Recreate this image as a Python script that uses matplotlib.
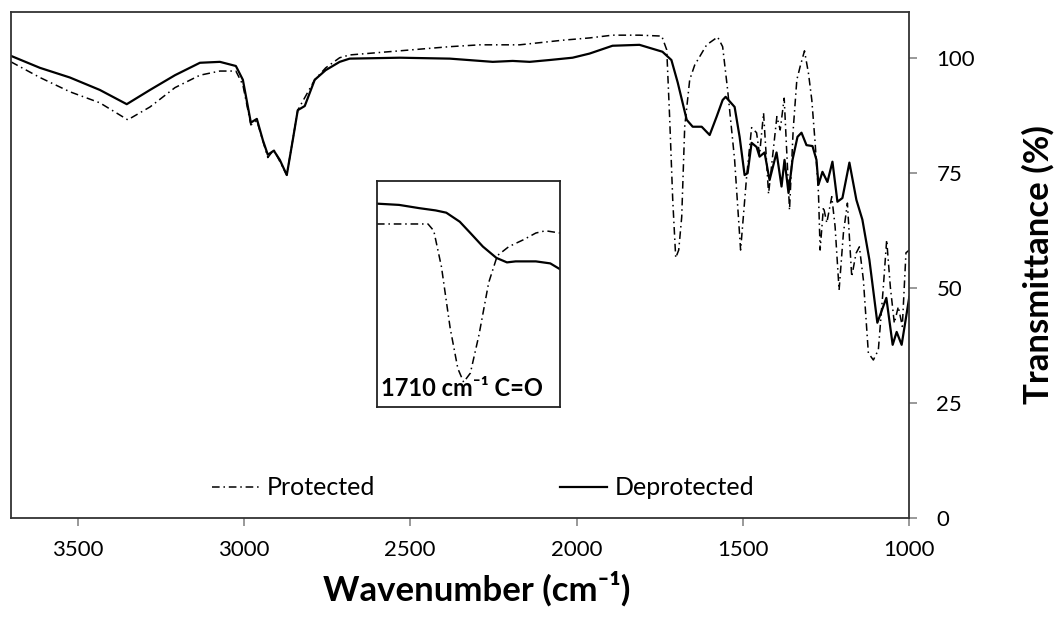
import matplotlib
matplotlib.use("Agg")
import matplotlib.pyplot as plt

plt.rcParams['font.family'] = ['Lato', 'DejaVu Sans']

# Deprotected (solid) spectrum
wn_dep = [3700, 3613, 3523, 3433, 3352, 3282, 3207, 3132, 3072, 3024, 3003, 2979,
          2961, 2943, 2928, 2910, 2892, 2871, 2853, 2838, 2817, 2787, 2754, 2712,
          2682, 2531, 2381, 2252, 2192, 2141, 2081, 2012, 1961, 1892, 1811, 1742,
          1715, 1696, 1669, 1651, 1624, 1600, 1579, 1561, 1552, 1525, 1510, 1495,
          1486, 1474, 1459, 1450, 1435, 1420, 1399, 1384, 1375, 1363, 1351, 1336,
          1324, 1309, 1291, 1279, 1273, 1261, 1246, 1231, 1216, 1201, 1180, 1159,
          1141, 1120, 1096, 1069, 1050, 1038, 1023, 1000]
t_dep = [100.5, 97.9, 95.8, 93.1, 90.0, 93.1, 96.3, 99.0, 99.2, 98.3, 95.3, 86.0,
         86.8, 82.2, 79.0, 79.9, 77.9, 74.6, 82.2, 88.7, 89.6, 95.3, 97.4, 99.2,
         99.9, 100.1, 99.9, 99.2, 99.4, 99.2, 99.6, 100.1, 101.0, 102.7, 102.9, 101.4,
         99.6, 94.7, 86.6, 85.1, 85.1, 83.3, 87.3, 90.9, 91.6, 89.4, 82.9, 74.6,
         75.0, 81.6, 80.7, 78.6, 79.5, 73.5, 79.5, 72.1, 77.9, 70.7, 77.9, 82.9,
         83.8, 81.1, 80.9, 77.9, 72.5, 75.3, 73.1, 77.5, 68.8, 69.6, 77.3, 69.2,
         64.9, 56.2, 42.5, 47.9, 37.7, 40.5, 37.7, 48.1]

# Protected (dash-dot) spectrum
wn_pro = [3700, 3613, 3523, 3433, 3349, 3282, 3207, 3132, 3072, 3024, 3003, 2979,
          2961, 2928, 2910, 2871, 2838, 2787, 2754, 2712, 2682, 2531, 2381, 2291,
          2171, 2042, 1961, 1892, 1811, 1744, 1729, 1720, 1711, 1702, 1693, 1684,
          1675, 1660, 1645, 1609, 1576, 1561, 1546, 1525, 1507, 1489, 1474, 1459,
          1450, 1438, 1423, 1398, 1388, 1376, 1360, 1349, 1338, 1328, 1315, 1303,
          1293, 1283, 1273, 1268, 1258, 1248, 1233, 1223, 1211, 1198, 1186, 1173,
          1160, 1150, 1138, 1123, 1108, 1093, 1078, 1068, 1057, 1045, 1033, 1021,
          1010, 1000]
t_pro = [99.2, 95.8, 92.7, 90.3, 86.6, 89.4, 93.6, 96.3, 97.2, 97.2, 94.2, 85.5,
         86.4, 78.4, 80.1, 74.6, 88.7, 95.3, 97.9, 100.1, 100.7, 101.6, 102.5, 102.9,
         102.9, 103.9, 104.4, 105.0, 105.0, 104.8, 101.8, 86.6, 69.2, 56.6, 58.3, 65.5,
         85.1, 95.3, 98.5, 102.9, 104.6, 102.5, 93.1, 77.9, 58.3, 74.2, 84.9, 83.8,
         79.0, 88.1, 70.5, 87.3, 84.4, 91.3, 67.0, 84.4, 95.3, 98.2, 101.6, 96.7,
         90.9, 81.6, 70.7, 58.3, 67.7, 64.2, 69.9, 63.4, 49.6, 62.0, 68.5, 52.5,
         57.6, 59.0, 51.8, 35.9, 34.4, 36.6, 50.3, 60.5, 50.3, 42.4, 46.0, 41.7,
         57.7, 58.3]

# Inset: zoom on the carbonyl band
wn_ins_pro = [1800, 1771, 1747, 1741, 1733, 1724, 1716, 1710, 1703, 1694, 1684,
              1675, 1663, 1648, 1635, 1625, 1610]
t_ins_pro = [92.9, 92.9, 92.9, 90.2, 75.8, 51.5, 35.3, 29.9, 33.5, 48.8, 69.5,
             80.3, 83.9, 86.6, 89.3, 90.2, 89.3]
wn_ins_dep = [1800, 1777, 1756, 1739, 1728, 1714, 1703, 1690, 1676, 1665, 1656,
              1635, 1620, 1610]
t_ins_dep = [101.0, 100.5, 99.2, 98.3, 97.4, 93.8, 89.3, 83.9, 79.4, 77.6, 78.0,
             78.0, 77.2, 74.9]

x_ticks = [3500, 3000, 2500, 2000, 1500, 1000]
y_ticks = [0, 25, 50, 75, 100]

dashdot = (0, (5, 2.5, 1, 2.5))

fig = plt.figure(figsize=(10.64, 6.19), dpi=100)
ax = fig.add_axes([0.0103, 0.1627, 0.8443, 0.8184])

ax.plot(wn_pro, t_pro, color='black', lw=1.1, linestyle=dashdot, label='Protected')
ax.plot(wn_dep, t_dep, color='black', lw=1.6, label='Deprotected')

ax.set_xlim(3700, 1000)
ax.set_ylim(0, 110.1)
ax.set_xticks(x_ticks)
ax.set_yticks(y_ticks)
ax.yaxis.tick_right()
ax.yaxis.set_label_position('right')
ax.tick_params(axis='both', direction='out', length=5.5, width=1.2, color='#888888',
               labelsize=16)
ax.tick_params(axis='x', pad=10)
ax.tick_params(axis='y', pad=14)
for s in ax.spines.values():
    s.set_linewidth(1.3)
    s.set_color('#333333')

ax.set_xlabel('Wavenumber (cm⁻¹)', fontsize=25, fontweight='bold')
ax.xaxis.set_label_coords(0.518, -0.105)
ax.set_ylabel('Transmittance (%)', fontsize=25, fontweight='bold', labelpad=34,
              rotation=90)

ax.legend(loc='center', bbox_to_anchor=(0.5256, 0.06), ncol=2, frameon=False,
          fontsize=18, columnspacing=7.4, handlelength=1.9, handletextpad=0.28)

# inset
ins = ax.inset_axes([0.4074, 0.2197, 0.2037, 0.446])
ins.plot(wn_ins_pro, t_ins_pro, color='black', lw=1.1, linestyle=dashdot)
ins.plot(wn_ins_dep, t_ins_dep, color='black', lw=1.6)
ins.set_xlim(1800, 1610)
ins.set_ylim(20, 110)
ins.set_xticks([])
ins.set_yticks([])
for s in ins.spines.values():
    s.set_linewidth(1.3)
    s.set_color('#222222')
ins.text(0.02, 0.03, '1710 cm⁻¹ C=O', transform=ins.transAxes,
         fontsize=17, fontweight='bold', ha='left', va='bottom')

fig.savefig('out.png', dpi=100)
